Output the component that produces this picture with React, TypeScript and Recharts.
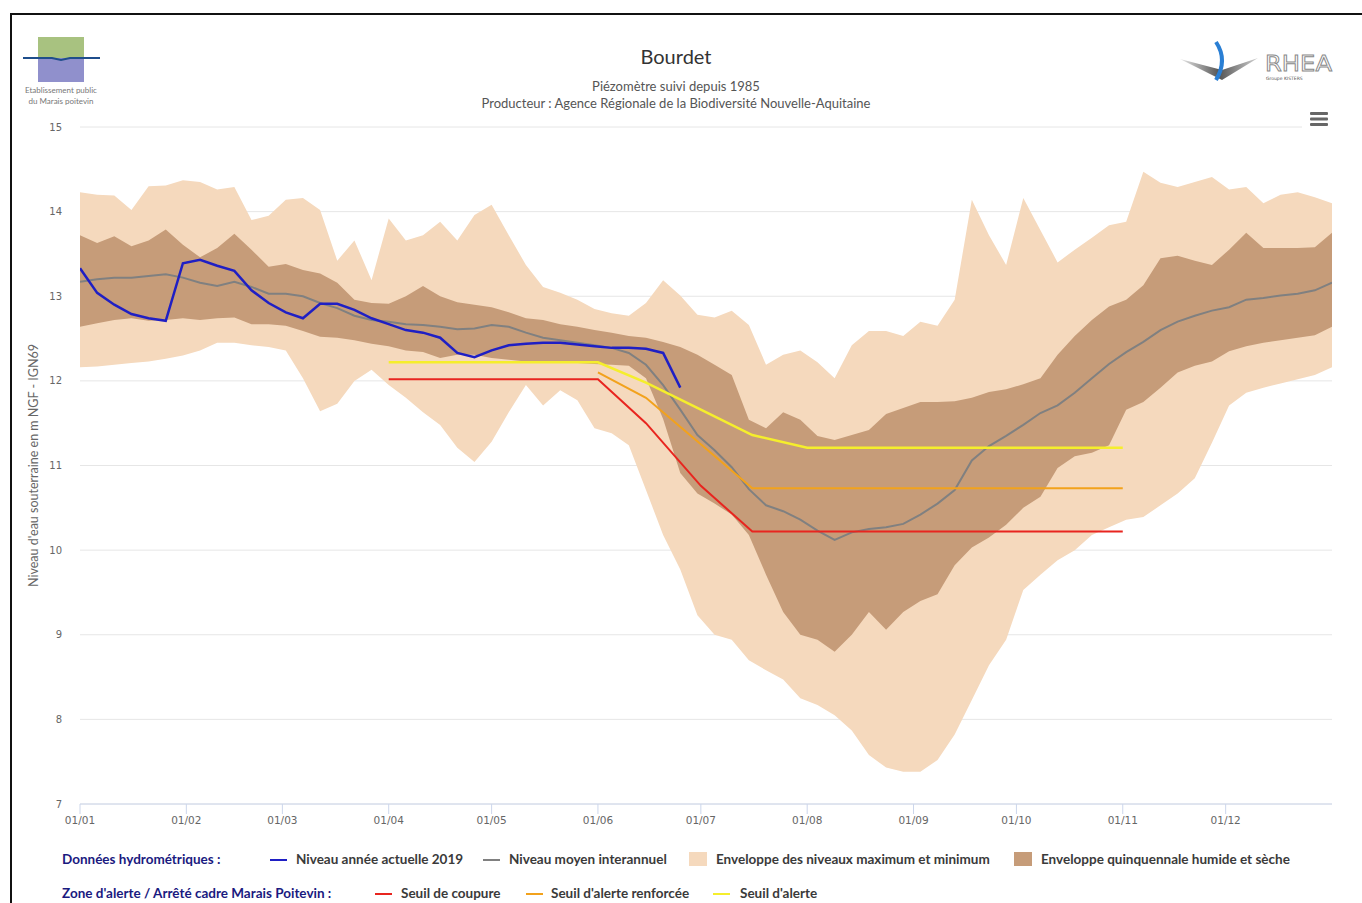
import React from 'react';
import { ComposedChart, Area, Line, XAxis, YAxis, CartesianGrid } from 'recharts';

// day of year (0 = 1 January)
const days = [
  0, 5, 10, 15, 20, 25, 30, 35, 40, 45, 50, 55, 60, 65, 70, 75, 80, 85, 90, 95,
  100, 105, 110, 115, 120, 125, 130, 135, 140, 145, 150, 155, 160, 165, 170, 175, 180, 185, 190, 195,
  200, 205, 210, 215, 220, 225, 230, 235, 240, 245, 250, 255, 260, 265, 270, 275, 280, 285, 290, 295,
  300, 305, 310, 315, 320, 325, 330, 335, 340, 345, 350, 355, 360, 365,
];

const maxLevel = [
  14.23, 14.20, 14.19, 14.02, 14.30, 14.31, 14.37, 14.35, 14.26, 14.29, 13.90, 13.95, 14.14, 14.16, 14.02, 13.42, 13.66, 13.19, 13.92, 13.66,
  13.72, 13.88, 13.66, 13.96, 14.08, 13.72, 13.37, 13.11, 13.04, 12.96, 12.85, 12.80, 12.77, 12.92, 13.19, 13.01, 12.78, 12.75, 12.83, 12.66,
  12.19, 12.31, 12.36, 12.22, 12.03, 12.42, 12.59, 12.59, 12.53, 12.70, 12.65, 12.96, 14.14, 13.72, 13.37, 14.16, 13.78, 13.40, 13.55, 13.69,
  13.84, 13.88, 14.47, 14.34, 14.29, 14.35, 14.41, 14.26, 14.29, 14.10, 14.20, 14.23, 14.17, 14.10,
];

const minLevel = [
  12.16, 12.17, 12.19, 12.21, 12.23, 12.26, 12.30, 12.36, 12.45, 12.45, 12.42, 12.40, 12.36, 12.03, 11.64, 11.73, 12.00, 12.13, 11.95, 11.80,
  11.63, 11.48, 11.21, 11.04, 11.28, 11.63, 11.95, 11.71, 11.89, 11.77, 11.44, 11.38, 11.24, 10.71, 10.18, 9.77, 9.23, 9.00, 8.94, 8.70,
  8.58, 8.47, 8.25, 8.17, 8.05, 7.87, 7.58, 7.43, 7.38, 7.38, 7.52, 7.82, 8.23, 8.64, 8.94, 9.53, 9.71, 9.88, 10.00, 10.18,
  10.27, 10.36, 10.39, 10.53, 10.67, 10.85, 11.27, 11.71, 11.86, 11.92, 11.97, 12.02, 12.07, 12.16,
];

const quintHigh = [
  13.72, 13.63, 13.71, 13.59, 13.66, 13.79, 13.61, 13.46, 13.57, 13.74, 13.55, 13.35, 13.38, 13.31, 13.27, 13.16, 12.96, 12.92, 12.91, 13.00,
  13.12, 13.00, 12.93, 12.90, 12.87, 12.81, 12.74, 12.72, 12.67, 12.64, 12.60, 12.57, 12.53, 12.51, 12.46, 12.40, 12.31, 12.19, 12.07, 11.54,
  11.44, 11.63, 11.54, 11.35, 11.30, 11.36, 11.42, 11.61, 11.68, 11.75, 11.75, 11.76, 11.80, 11.87, 11.90, 11.96, 12.03, 12.31, 12.53, 12.72,
  12.88, 12.96, 13.13, 13.45, 13.48, 13.42, 13.37, 13.55, 13.75, 13.57, 13.57, 13.57, 13.58, 13.75,
];

const quintLow = [
  12.64, 12.68, 12.72, 12.74, 12.71, 12.72, 12.74, 12.72, 12.74, 12.75, 12.67, 12.67, 12.65, 12.59, 12.52, 12.51, 12.48, 12.44, 12.41, 12.36,
  12.34, 12.27, 12.31, 12.31, 12.27, 12.25, 12.23, 12.22, 12.22, 12.21, 12.20, 12.19, 12.18, 12.03, 11.55, 10.91, 10.67, 10.55, 10.42, 10.18,
  9.71, 9.27, 9.00, 8.94, 8.80, 9.00, 9.27, 9.06, 9.27, 9.40, 9.48, 9.82, 10.03, 10.15, 10.30, 10.50, 10.63, 10.97, 11.11, 11.15,
  11.24, 11.66, 11.75, 11.92, 12.10, 12.18, 12.23, 12.35, 12.41, 12.45, 12.48, 12.51, 12.54, 12.64,
];

const meanLevel = [
  13.17, 13.20, 13.22, 13.22, 13.24, 13.26, 13.22, 13.16, 13.12, 13.17, 13.11, 13.03, 13.03, 13.00, 12.92, 12.86, 12.77, 12.72, 12.70, 12.67,
  12.66, 12.64, 12.61, 12.62, 12.66, 12.64, 12.57, 12.51, 12.48, 12.45, 12.42, 12.39, 12.33, 12.19, 11.95, 11.66, 11.36, 11.18, 10.98, 10.72,
  10.53, 10.46, 10.36, 10.23, 10.12, 10.21, 10.25, 10.27, 10.31, 10.42, 10.55, 10.71, 11.06, 11.23, 11.35, 11.48, 11.62, 11.71, 11.86, 12.03,
  12.20, 12.34, 12.46, 12.60, 12.70, 12.77, 12.83, 12.87, 12.96, 12.98, 13.01, 13.03, 13.07, 13.16,
];

// 2019 values, up to late June
const level2019 = [
  13.33, 13.04, 12.90, 12.79, 12.74, 12.71, 13.39, 13.43, 13.36, 13.30, 13.07, 12.92, 12.81, 12.74, 12.91, 12.91, 12.84, 12.74, 12.67, 12.60,
  12.57, 12.51, 12.33, 12.28, 12.36, 12.42, 12.44, 12.45, 12.45, 12.43, 12.41, 12.39, 12.39, 12.38, 12.33, 11.92,
];

// thresholds (Arrêté cadre Marais Poitevin)
const thresholdDays = [90, 151, 165, 181, 196, 212, 304];
const cutoff = [12.02, 12.02, 11.5, 10.76, 10.22, 10.22, 10.22];
const reinforced = [null, 12.1, 11.8, 11.25, 10.73, 10.73, 10.73];
const alert = [12.22, 12.22, 11.98, 11.66, 11.36, 11.21, 11.21];

const monthTicks = [0, 31, 59, 90, 120, 151, 181, 212, 243, 273, 304, 334];
const monthLabels = ['01/01', '01/02', '01/03', '01/04', '01/05', '01/06', '01/07', '01/08', '01/09', '01/10', '01/11', '01/12'];
const yTicks = [7, 8, 9, 10, 11, 12, 13, 14, 15];

const LIGHT = '#f5d9bd';
const DARK = '#c69c79';
const GREY = '#808080';
const BLUE = '#1f1fc4';
const RED = '#e8251f';
const ORANGE = '#f2a21c';
const YELLOW = '#f5ee2c';

const rows = days.map((day, i) => ({
  day,
  extremes: [minLevel[i], maxLevel[i]],
  quinquennial: [quintLow[i], quintHigh[i]],
  mean: meanLevel[i],
  current: i < level2019.length ? level2019[i] : null,
}));

const thresholdRows = thresholdDays.map((day, i) => ({
  day,
  cutoff: cutoff[i],
  reinforced: reinforced[i],
  alert: alert[i],
}));

const abs = (left: number, top: number, extra: React.CSSProperties = {}): React.CSSProperties => ({
  position: 'absolute',
  left,
  top,
  whiteSpace: 'nowrap',
  ...extra,
});

const legendText: React.CSSProperties = { fontSize: 13.5, fontWeight: 700, color: '#3a3a3a', lineHeight: '16px' };
const headerText: React.CSSProperties = { fontSize: 13.5, fontWeight: 700, color: '#1a1a80', lineHeight: '16px' };

function Dash({ x, y, color }: { x: number; y: number; color: string }) {
  return <div style={abs(x, y, { width: 17, height: 2, background: color })} />;
}

function Swatch({ x, y, color }: { x: number; y: number; color: string }) {
  return <div style={abs(x, y, { width: 18, height: 14, background: color })} />;
}

export default function App() {
  return (
    <div style={{ position: 'absolute', left: 0, top: 0, width: 1362, height: 903, overflow: 'hidden', background: '#fff', fontFamily: 'Lato, sans-serif' }}>
      <div style={abs(0, 0)}>
        <ComposedChart width={1362} height={850} data={rows} margin={{ top: 127, right: 30, left: 0, bottom: 16 }}>
          <CartesianGrid horizontal vertical={false} stroke="#e6e6e6" />
          <XAxis
            dataKey="day"
            type="number"
            domain={[0, 365]}
            ticks={monthTicks}
            tickFormatter={(v: number) => monthLabels[monthTicks.indexOf(v)]}
            height={30}
            tickSize={10}
            tickMargin={3}
            stroke="#ccd6eb"
            tick={{ fill: '#666', fontSize: 10.5, fontFamily: 'DejaVu Sans' }}
            allowDataOverflow
          />
          <YAxis
            type="number"
            domain={[7, 15]}
            ticks={yTicks}
            width={80}
            tickLine={false}
            axisLine={false}
            tickSize={0}
            tickMargin={18}
            tick={{ fill: '#666', fontSize: 10, fontFamily: 'DejaVu Sans' }}
            label={{
              value: "Niveau d'eau souterraine en m NGF - IGN69",
              angle: -90,
              position: 'center',
              dx: -6,
              style: { fill: '#666', fontSize: 12.5, fontFamily: 'Lato' },
            }}
          />
          <Area dataKey="extremes" fill={LIGHT} fillOpacity={1} stroke="none" isAnimationActive={false} type="linear" />
          <Area dataKey="quinquennial" fill={DARK} fillOpacity={1} stroke="none" isAnimationActive={false} type="linear" />
          <Line dataKey="mean" stroke={GREY} strokeWidth={2} dot={false} isAnimationActive={false} type="linear" />
          <Line data={thresholdRows} dataKey="cutoff" stroke={RED} strokeWidth={2} dot={false} isAnimationActive={false} type="linear" />
          <Line data={thresholdRows} dataKey="reinforced" stroke={ORANGE} strokeWidth={2} dot={false} isAnimationActive={false} type="linear" />
          <Line data={thresholdRows} dataKey="alert" stroke={YELLOW} strokeWidth={2.5} dot={false} isAnimationActive={false} type="linear" />
          <Line dataKey="current" stroke={BLUE} strokeWidth={2.5} dot={false} isAnimationActive={false} type="linear" />
        </ComposedChart>
      </div>

      {/* frame */}
      <div style={abs(10, 13, { width: 1400, height: 950, borderLeft: '2px solid #111', borderTop: '2px solid #111' })} />

      {/* titles */}
      <div style={abs(0, 44, { width: 1352, textAlign: 'center', fontSize: 20, color: '#333' })}>Bourdet</div>
      <div style={abs(0, 78, { width: 1352, textAlign: 'center', fontSize: 13, color: '#555', lineHeight: '17px' })}>
        Piézomètre suivi depuis 1985
        <br />
        Producteur : Agence Régionale de la Biodiversité Nouvelle-Aquitaine
      </div>

      {/* left logo */}
      <svg style={abs(0, 0)} width={130} height={115}>
        <rect x={38} y={37} width={46} height={21} fill="#a8c280" />
        <rect x={38} y={58} width={46} height={24} fill="#9090cc" />
        <path d="M23 58 L52 58 L61 60 L70 58 L100 58" stroke="#1f4e8c" strokeWidth={2} fill="none" />
        <text x={61} y={93} textAnchor="middle" fontSize={8} fill="#777" fontFamily="Lato">Etablissement public</text>
        <text x={61} y={104} textAnchor="middle" fontSize={8} fill="#777" fontFamily="Lato">du Marais poitevin</text>
      </svg>

      {/* right logo */}
      <svg style={abs(1170, 30)} width={180} height={60}>
        <defs>
          <linearGradient id="wing" x1="0" y1="0" x2="1" y2="0">
            <stop offset="0" stopColor="#e8e8e8" />
            <stop offset="0.5" stopColor="#555" />
            <stop offset="1" stopColor="#d0d0d0" />
          </linearGradient>
        </defs>
        <polygon points="10,29 52,50 88,28 52,40" fill="url(#wing)" />
        <path d="M46 12 Q58 30 46 50" stroke="#2a7fd4" strokeWidth={4} fill="none" />
        <text x={95} y={41} fontSize={22} fill="#fff" stroke="#888" strokeWidth={0.9} fontFamily="DejaVu Sans" textLength={67} lengthAdjust="spacingAndGlyphs">RHEA</text>
        <text x={96} y={50} fontSize={4.5} fill="#555" fontFamily="DejaVu Sans">Groupe KISTERS</text>
      </svg>

      {/* menu button */}
      <svg style={abs(1302, 106)} width={32} height={26}>
        <rect x={0} y={0} width={32} height={26} fill="#fff" />
        <rect x={8} y={6} width={18} height={3} rx={1} fill="#666" />
        <rect x={8} y={11.5} width={18} height={3} rx={1} fill="#666" />
        <rect x={8} y={17} width={18} height={3} rx={1} fill="#666" />
      </svg>

      {/* legend row 1 */}
      <div style={abs(62, 851, headerText)}>Données hydrométriques :</div>
      <Dash x={270} y={859} color={BLUE} />
      <div style={abs(296, 851, legendText)}>Niveau année actuelle 2019</div>
      <Dash x={483} y={859} color={GREY} />
      <div style={abs(509, 851, legendText)}>Niveau moyen interannuel</div>
      <Swatch x={689} y={852} color={LIGHT} />
      <div style={abs(716, 851, legendText)}>Enveloppe des niveaux maximum et minimum</div>
      <Swatch x={1014} y={852} color={DARK} />
      <div style={abs(1041, 851, legendText)}>Enveloppe quinquennale humide et sèche</div>

      {/* legend row 2 */}
      <div style={abs(62, 885, headerText)}>Zone d'alerte / Arrêté cadre Marais Poitevin :</div>
      <Dash x={375} y={893} color={RED} />
      <div style={abs(401, 885, legendText)}>Seuil de coupure</div>
      <Dash x={526} y={893} color={ORANGE} />
      <div style={abs(551, 885, legendText)}>Seuil d'alerte renforcée</div>
      <Dash x={713} y={893} color={YELLOW} />
      <div style={abs(740, 885, legendText)}>Seuil d'alerte</div>
    </div>
  );
}
